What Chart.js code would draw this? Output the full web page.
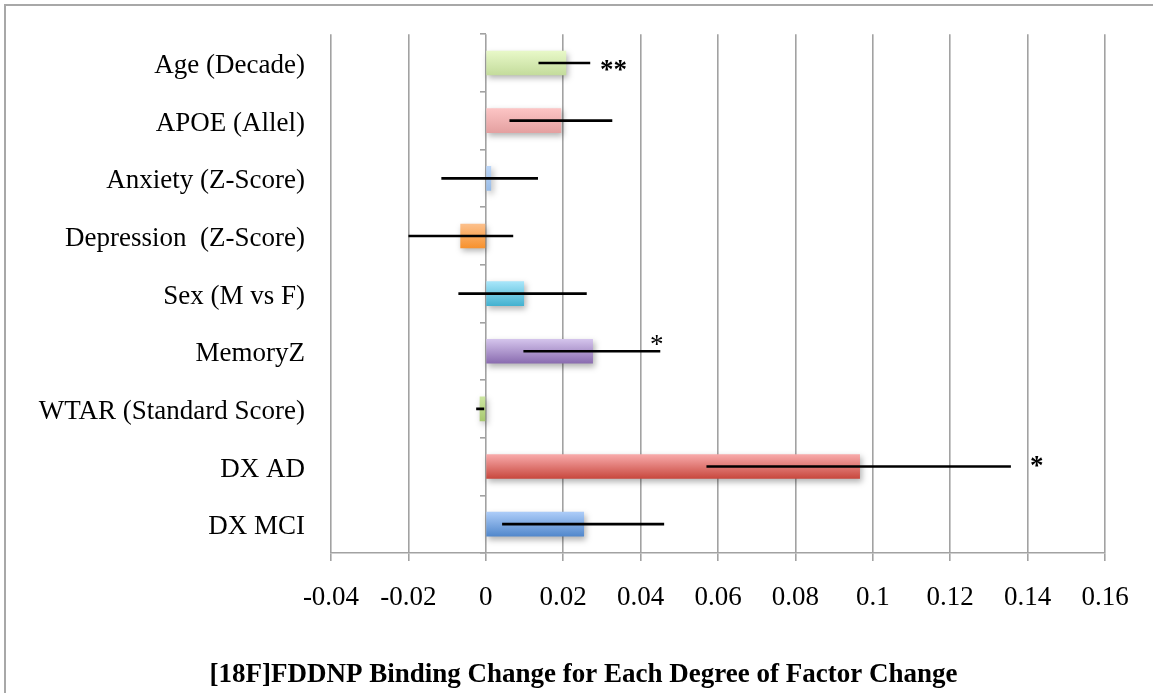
<!DOCTYPE html>
<html>
<head>
<meta charset="utf-8">
<script src="https://cdn.jsdelivr.net/npm/chart.js@4.4.1/dist/chart.umd.min.js"></script>
<style>
  html, body { margin: 0; padding: 0; background: #ffffff; overflow: hidden; }
  #wrap { position: relative; width: 1153px; height: 693px; }
  #frame { position: absolute; left: 4px; top: 4px; width: 1300px; height: 900px;
           border-left: 2px solid #a8a8a8; border-top: 2px solid #a8a8a8; }
  #chartBox { position: absolute; left: 0; top: 0; width: 1153px; height: 693px; }
</style>
</head>
<body>
<div id="wrap">
  <div id="frame"></div>
  <div id="chartBox"><canvas id="c"></canvas></div>
</div>
<script>
// ---- data ----
const categories = ['Age (Decade)', 'APOE (Allel)', 'Anxiety (Z-Score)', 'Depression  (Z-Score)',
  'Sex (M vs F)', 'MemoryZ', 'WTAR (Standard Score)', 'DX AD', 'DX MCI'];
const estimates = [0.0207, 0.0194, 0.0013, -0.0065, 0.0098, 0.0276, -0.0015, 0.0966, 0.0253];
const errorLow  = [0.0137, 0.0062, -0.0114, -0.0199, -0.0070, 0.0098, -0.0024, 0.0571, 0.0043];
const errorHigh = [0.0269, 0.0326, 0.0134, 0.0070, 0.0260, 0.0450, -0.0005, 0.1356, 0.0460];
const starText  = ['**', '', '', '', '', '*', '', '*', ''];
const starValue = [0.0295, null, null, null, null, 0.0424, null, 0.1406, null];
const xTickLabels = ['-0.04', '-0.02', '0', '0.02', '0.04', '0.06', '0.08', '0.1', '0.12', '0.14', '0.16'];
const titleText = '[18F]FDDNP Binding Change for Each Degree of Factor Change';

// ---- styles ----
const topColors = ['#e8f8c8', '#fcc4c4', '#bcd6f8', '#fcc08c', '#a8e6fa', '#d4c4ec', '#cce6a0', '#f8aaaa', '#acccf8'];
const bottomColors = ['#c4dc9c', '#e4a0a0', '#98bce8', '#f7922e', '#44b2d0', '#8a6cb0', '#a8c870', '#c8483e', '#5288cc'];
const starBold = [true, false, false, false, false, false, false, true, false];
const starDy = [15, 0, 0, 0, 0, 2, 0, 7.5, 0];

const FONT = '"Liberation Serif", "Times New Roman", serif';
const BAR_T = 24;
const GRID = '#a2a2a2';

function barGradient(ctx) {
  const chart = ctx.chart;
  if (!chart.chartArea || !chart.scales.y) return topColors[ctx.dataIndex];
  const yc = chart.scales.y.getPixelForValue(ctx.dataIndex);
  const g = chart.ctx.createLinearGradient(0, yc - BAR_T / 2, 0, yc + BAR_T / 2);
  g.addColorStop(0, topColors[ctx.dataIndex]);
  g.addColorStop(1, bottomColors[ctx.dataIndex]);
  return g;
}

const shadowPlugin = {
  id: 'barShadow',
  beforeDatasetDraw(chart, args) {
    if (args.index !== 0) return;
    const c = chart.ctx;
    c.save();
    c.shadowColor = 'rgba(0,0,0,0.30)';
    c.shadowBlur = 6;
    c.shadowOffsetX = 2;
    c.shadowOffsetY = 3;
  },
  afterDatasetDraw(chart, args) {
    if (args.index !== 0) return;
    chart.ctx.restore();
  }
};

const annotPlugin = {
  id: 'annot',
  afterDraw(chart) {
    const c = chart.ctx;
    const xs = chart.scales.x, ys = chart.scales.y;
    c.save();
    c.fillStyle = '#000';
    c.textAlign = 'left';
    c.textBaseline = 'alphabetic';
    for (let i = 0; i < starText.length; i++) {
      if (!starText[i]) continue;
      c.font = (starBold[i] ? 'bold ' : '') + '27px ' + FONT;
      c.fillText(starText[i], xs.getPixelForValue(starValue[i]), ys.getPixelForValue(i) + starDy[i]);
    }
    c.font = 'bold 27px ' + FONT;
    c.textAlign = 'center';
    c.fillText(titleText, 583.5, 682);
    c.restore();
  }
};

new Chart(document.getElementById('c'), {
  type: 'bar',
  data: {
    labels: categories,
    datasets: [
      {
        label: 'Estimate',
        data: estimates,
        backgroundColor: barGradient,
        borderWidth: 0,
        barThickness: BAR_T,
        grouped: false,
        order: 1
      },
      {
        label: 'Error',
        data: errorLow.map((lo, i) => [lo, errorHigh[i]]),
        backgroundColor: '#000000',
        borderWidth: 0,
        barThickness: 2,
        grouped: false,
        order: 0
      }
    ]
  },
  options: {
    indexAxis: 'y',
    responsive: true,
    maintainAspectRatio: false,
    animation: false,
    layout: { padding: { left: 0, right: 48, top: 26, bottom: 0 } },
    plugins: { legend: { display: false }, tooltip: { enabled: false }, title: { display: false } },
    scales: {
      x: {
        min: -0.04, max: 0.16,
        ticks: {
          stepSize: 0.02,
          color: '#000',
          font: { family: FONT, size: 27 },
          padding: 21,
          maxRotation: 0,
          autoSkip: false,
          callback: (v, i) => xTickLabels[i]
        },
        grid: { color: GRID, lineWidth: 1.6, tickLength: 8, drawTicks: true },
        border: { display: true, color: GRID, width: 1.6 },
        afterFit(scale) { scale.height = 140; }
      },
      y: {
        offset: true,
        ticks: { color: '#000', font: { family: FONT, size: 27 }, padding: 18, labelOffset: 3 },
        grid: { display: false },
        border: { display: false },
        afterFit(scale) { scale.width = 331; }
      },
      y2: {
        type: 'category',
        axis: 'y',
        labels: categories,
        position: { x: 0 },
        offset: true,
        ticks: { display: false },
        grid: { offset: true, drawOnChartArea: false, tickLength: 6, color: GRID, lineWidth: 1.6 },
        border: { display: false },
        afterFit(scale) { scale.width = 0; }
      }
    }
  },
  plugins: [shadowPlugin, annotPlugin]
});
</script>
</body>
</html>
